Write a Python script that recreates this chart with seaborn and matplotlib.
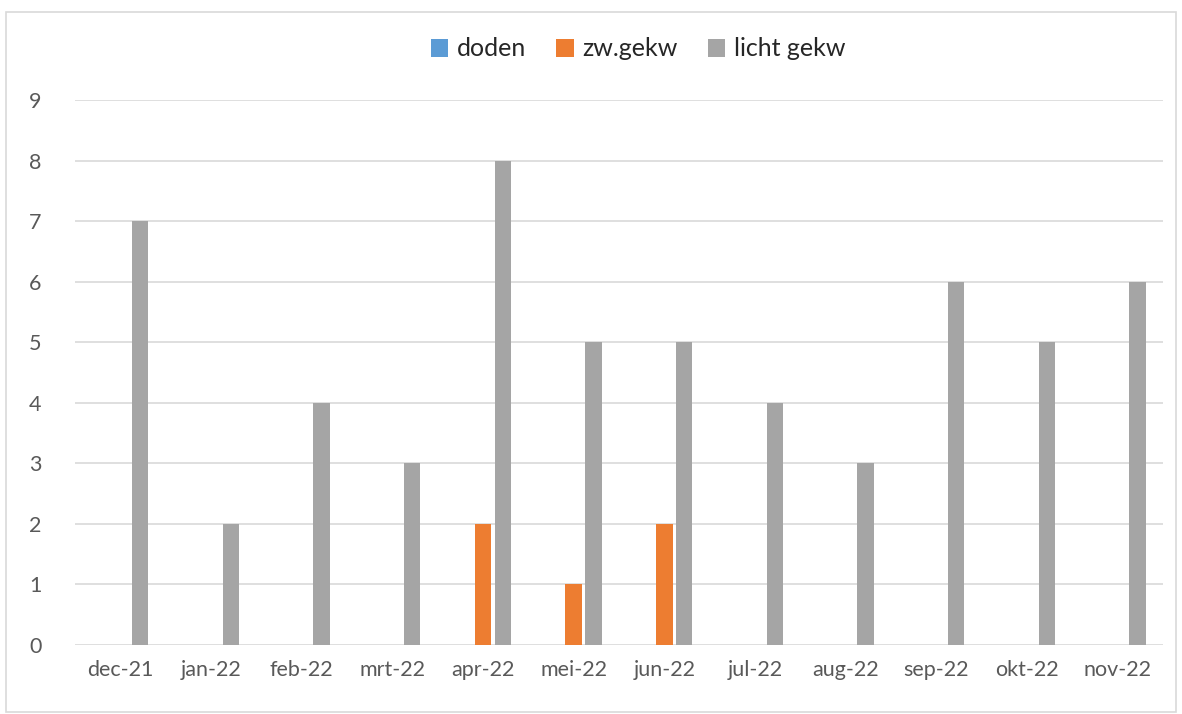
import matplotlib
matplotlib.use("Agg")
import matplotlib.pyplot as plt
import seaborn as sns
import pandas as pd
from matplotlib.patches import Rectangle

# Data
maanden = ['dec-21', 'jan-22', 'feb-22', 'mrt-22', 'apr-22', 'mei-22',
           'jun-22', 'jul-22', 'aug-22', 'sep-22', 'okt-22', 'nov-22']
doden = [0, 0, 0, 0, 0, 0, 0, 0, 0, 0, 0, 0]
zw_gekw = [0, 0, 0, 0, 2, 1, 2, 0, 0, 0, 0, 0]
licht_gekw = [7, 2, 4, 3, 8, 5, 5, 4, 3, 6, 5, 6]
series = ['doden', 'zw.gekw', 'licht gekw']
kleuren = ['#5B9BD5', '#ED7D31', '#A5A5A5']

df = pd.DataFrame({'maand': maanden, 'doden': doden,
                   'zw.gekw': zw_gekw, 'licht gekw': licht_gekw})
df_long = df.melt(id_vars='maand', var_name='serie', value_name='aantal')

sns.set_theme(style="white")
plt.rcParams['font.family'] = ['Lato', 'DejaVu Sans']

fig = plt.figure(figsize=(11.82, 7.14), dpi=100)
ax = fig.add_axes([75 / 1182, 69 / 714, (1163 - 75) / 1182, (614 - 69) / 714])

sns.barplot(data=df_long, x='maand', y='aantal', hue='serie',
            hue_order=series, order=maanden, palette=kleuren,
            width=0.66, gap=0.18, saturation=1, linewidth=0,
            ax=ax, legend=True)

ax.set_ylim(0, 9)
ax.set_xlim(-0.5, len(maanden) - 0.5)
ax.set_yticks(range(0, 10))
ax.yaxis.grid(True, color='#D9D9D9', linewidth=1.2)
ax.set_axisbelow(True)
for s in ax.spines.values():
    s.set_visible(False)
ax.set_xlabel('')
ax.set_ylabel('')
ax.tick_params(axis='both', length=0, labelsize=15.5, labelcolor='#595959')
ax.tick_params(axis='x', pad=11)
ax.tick_params(axis='y', pad=24)

handles, labels = ax.get_legend_handles_labels()
ax.get_legend().remove()
fig.legend(handles, labels, loc='center', bbox_to_anchor=(638 / 1182, 1 - 49 / 714),
           ncol=3, frameon=False, fontsize=18, handlelength=0.7, handleheight=0.7,
           handletextpad=0.35, columnspacing=1.2)

# figure border like the Excel chart area
fig.patches.append(Rectangle((6 / 1182, 2 / 714), 1170 / 1182, 700 / 714,
                             transform=fig.transFigure, fill=False,
                             edgecolor='#D9D9D9', linewidth=1.2))

fig.savefig('out.png', dpi=100)
